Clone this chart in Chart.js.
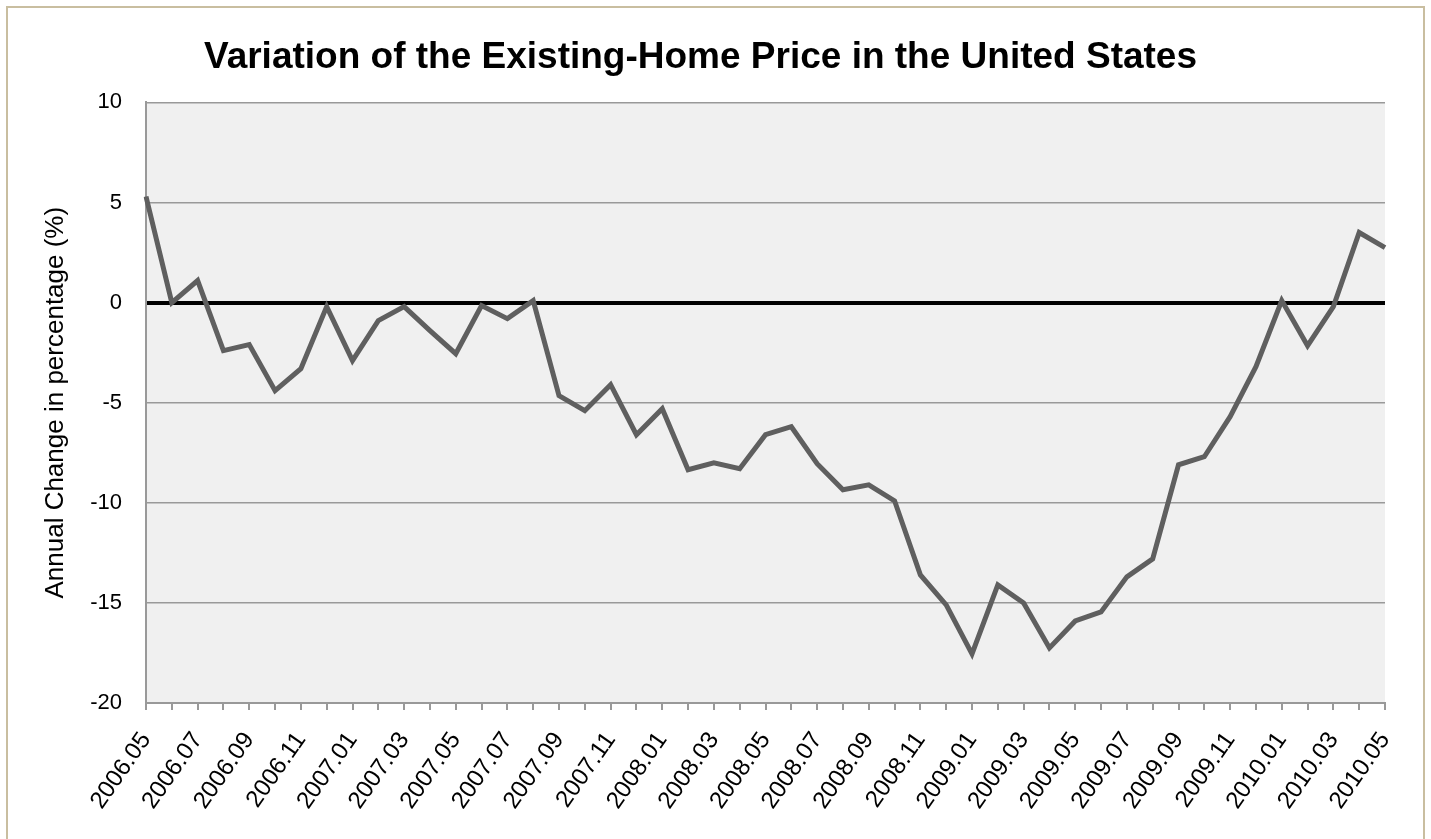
<!DOCTYPE html>
<html>
<head>
<meta charset="utf-8">
<script src="https://cdn.jsdelivr.net/npm/chart.js@4/dist/chart.umd.min.js"></script>
<style>
  html, body { margin: 0; padding: 0; background: #ffffff; overflow: hidden; }
  #frame { position: absolute; left: 6px; top: 6px; width: 1419px; height: 900px; border: 2px solid #c9bea0; box-sizing: border-box; }
  #wrap { position: absolute; left: 0; top: 0; width: 1431px; height: 839px; }
</style>
</head>
<body>
<div id="frame"></div>
<div id="wrap"><canvas id="c" width="1431" height="839"></canvas></div>
<script>
const categories = [
  "2006.05","2006.06","2006.07","2006.08","2006.09","2006.10","2006.11","2006.12",
  "2007.01","2007.02","2007.03","2007.04","2007.05","2007.06","2007.07","2007.08",
  "2007.09","2007.10","2007.11","2007.12","2008.01","2008.02","2008.03","2008.04",
  "2008.05","2008.06","2008.07","2008.08","2008.09","2008.10","2008.11","2008.12",
  "2009.01","2009.02","2009.03","2009.04","2009.05","2009.06","2009.07","2009.08",
  "2009.09","2009.10","2009.11","2009.12","2010.01","2010.02","2010.03","2010.04",
  "2010.05"
];
const annualChange = [
  5.3, 0.0, 1.1, -2.4, -2.1, -4.4, -3.3, -0.2,
  -2.9, -0.9, -0.2, -1.4, -2.55, -0.15, -0.8, 0.1,
  -4.65, -5.4, -4.1, -6.6, -5.3, -8.35, -8.0, -8.3,
  -6.6, -6.2, -8.05, -9.35, -9.1, -9.9, -13.6, -15.1,
  -17.55, -14.1, -15.0, -17.25, -15.9, -15.45, -13.7, -12.8,
  -8.1, -7.7, -5.7, -3.2, 0.1, -2.15, -0.2, 3.5,
  2.75
];
const yTicks = [10, 5, 0, -5, -10, -15, -20];
const titleText = "Variation of the Existing-Home Price in the United States";
const yTitle = "Annual Change in percentage (%)";

const plotBg = {
  id: 'plotBg',
  beforeDraw(chart) {
    const a = chart.chartArea, ctx = chart.ctx;
    ctx.save();
    ctx.fillStyle = '#f0f0f0';
    ctx.fillRect(a.left, a.top, a.right - a.left, a.bottom - a.top);
    ctx.restore();
  }
};

const FONT = "'Liberation Sans', Arial, sans-serif";

new Chart(document.getElementById('c'), {
  type: 'line',
  data: {
    labels: categories,
    datasets: [{
      data: annualChange,
      borderColor: '#5f5f5f',
      borderWidth: 5,
      pointRadius: 0,
      tension: 0,
      fill: false,
      borderJoinStyle: 'miter'
    }]
  },
  options: {
    responsive: false,
    animation: false,
    layout: { padding: { left: 16, right: 46, top: 0, bottom: 0 } },
    plugins: {
      legend: { display: false },
      tooltip: { enabled: false },
      title: {
        display: true,
        text: titleText,
        color: '#000000',
        font: { family: FONT, size: 37, weight: 'bold' },
        padding: { top: 36, bottom: 22 }
      }
    },
    scales: {
      x: {
        type: 'category',
        offset: false,
        border: { display: true, color: '#999999', width: 2 },
        grid: { drawOnChartArea: false, drawTicks: true, tickLength: 7, color: '#999999', lineWidth: 2 },
        ticks: {
          autoSkip: false,
          maxRotation: 55,
          minRotation: 55,
          padding: 17,
          color: '#000000',
          font: { family: FONT, size: 24 },
          callback: function(value, index) { return index % 2 === 0 ? categories[index] : ''; }
        },
        afterFit(scale) { scale.height = 136; }
      },
      y: {
        min: -20,
        max: 10,
        afterBuildTicks(scale) { scale.ticks = yTicks.map(v => ({ value: v })); },
        border: { display: true, color: '#999999', width: 2 },
        grid: {
          drawTicks: false,
          color: (ctx) => (ctx.tick && ctx.tick.value === 0) ? '#000000' : '#999999',
          lineWidth: (ctx) => (ctx.tick && ctx.tick.value === 0) ? 4 : 1.5
        },
        ticks: {
          padding: 24,
          color: '#000000',
          font: { family: FONT, size: 22 }
        },
        title: {
          display: true,
          text: yTitle,
          color: '#000000',
          font: { family: FONT, size: 26 },
          padding: { top: 24, bottom: 0 }
        },
        afterFit(scale) { scale.width = 130; }
      }
    }
  },
  plugins: [plotBg]
});
</script>
</body>
</html>
